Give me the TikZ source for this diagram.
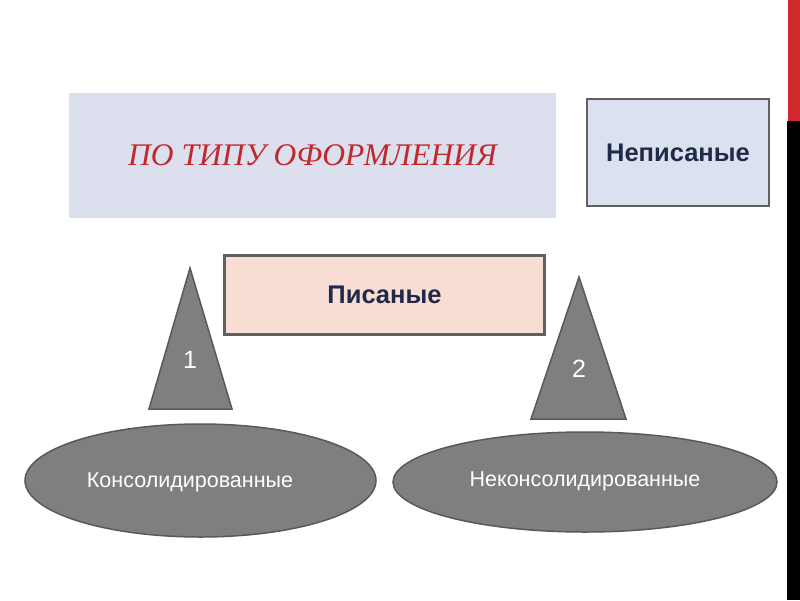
\documentclass[tikz,border=0pt]{standalone}
\usepackage{fontspec}
\setmainfont{Liberation Sans}
\newfontfamily\titlefont{Liberation Serif}
\usetikzlibrary{shapes.geometric}
\definecolor{titlebg}{HTML}{DCE0EE}
\definecolor{titlered}{HTML}{C0282D}
\definecolor{boxblue}{HTML}{DCE1EF}
\definecolor{boxpink}{HTML}{F8DDD5}
\definecolor{boxline}{HTML}{606060}
\definecolor{navytext}{HTML}{1F2A48}
\definecolor{shapegray}{HTML}{7F7F7F}
\definecolor{shapeline}{HTML}{595959}
\definecolor{barred}{HTML}{D2282E}
\tikzset{
  labelbox/.style={draw=boxline, line width=2.2pt, inner sep=0pt, text=navytext,
    font=\fontsize{25.5}{30}\selectfont\bfseries},
  grayshape/.style={fill=shapegray, draw=shapeline, line width=1.5pt},
  whitetext/.style={text=white, inner sep=0pt},
}
\begin{document}
\begin{tikzpicture}[x=1pt,y=-1pt]
\useasboundingbox (0,0) rectangle (800,600);
\fill[white] (0,0) rectangle (800,600);
% right bars
\fill[barred] (788,0) rectangle (800,121);
\fill[black] (787,121) rectangle (800,600);
% title
\node[fill=titlebg, minimum width=487pt, minimum height=125pt, inner sep=0pt,
  text=titlered, font=\titlefont\itshape\fontsize{31.5}{36}\selectfont]
  (title) at (312.5,155.5) {ПО ТИПУ ОФОРМЛЕНИЯ};
% boxes
\node[labelbox, fill=boxblue, minimum width=182pt, minimum height=107pt]
  (nepis) at (678,152.5) {Неписаные};
\node[labelbox, fill=boxpink, minimum width=320pt, minimum height=79pt]
  (pis) at (384.5,295) {Писаные};
% triangles
\draw[grayshape] (190,268) -- (232,409) -- (149,409) -- cycle;
\node[whitetext, font=\fontsize{25}{30}\selectfont] (n1) at (190,360) {1};
\draw[grayshape] (579,277) -- (626,419) -- (531,419) -- cycle;
\node[whitetext, font=\fontsize{25}{30}\selectfont] (n2) at (579,369) {2};
% ellipses
\node[ellipse, grayshape, minimum width=351pt, minimum height=113pt, inner sep=0pt]
  (e1) at (200.5,480.5) {};
\node[whitetext, font=\fontsize{21.5}{26}\selectfont] (t1) at (190,482) {Консолидированные};
\node[ellipse, grayshape, minimum width=384pt, minimum height=100pt, inner sep=0pt]
  (e2) at (585,482) {};
\node[whitetext, font=\fontsize{21.5}{26}\selectfont] (t2) at (585,481) {Неконсолидированные};
\end{tikzpicture}
\end{document}
